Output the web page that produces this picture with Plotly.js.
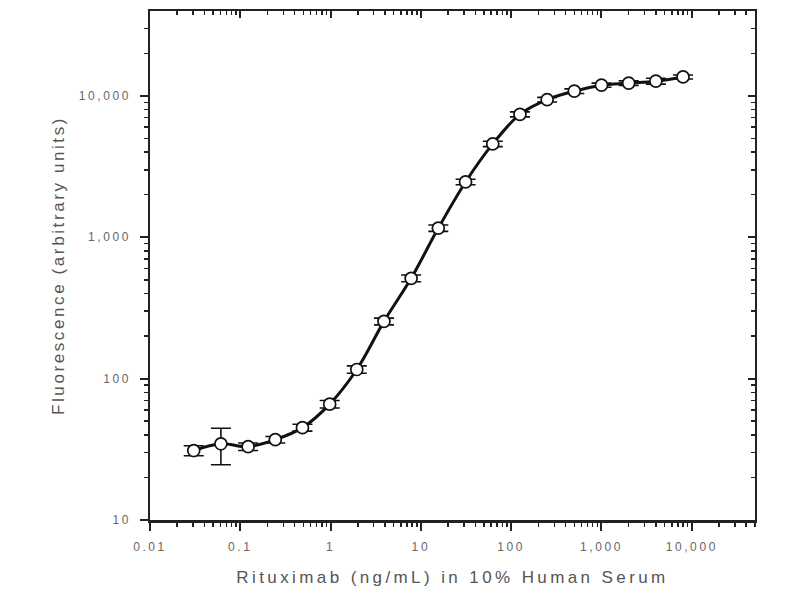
<!DOCTYPE html>
<html>
<head>
<meta charset="utf-8">
<script src="https://cdn.plot.ly/plotly-3.0.1.min.js"></script>
<style>
  html, body { margin: 0; padding: 0; background: #fff; }
  #chart { width: 800px; height: 600px; }
  /* the original artwork uses widely tracked lettering */
  #chart .xtitle { letter-spacing: 3.4px; }
  #chart .ytitle { letter-spacing: 2.6px; }
  #chart .xtick text, #chart .ytick text { letter-spacing: 2.6px; }
</style>
</head>
<body>
<div id="chart"></div>
<script>
// rituximab concentration (ng/mL), two-fold dilution series
var conc = [0.0305, 0.061, 0.122, 0.244, 0.488, 0.977, 1.95, 3.9, 7.8, 15.6,
            31.25, 62.5, 125, 250, 500, 1000, 2000, 4000, 8000];
// mean fluorescence (arbitrary units)
var fluor = [31, 34.6, 33, 37, 45, 66, 116, 254, 512, 1160,
             2460, 4570, 7400, 9400, 10800, 11900, 12300, 12700, 13600];
// error bar half-heights
var fluorErr = [2.5, 10, 2, 2, 2.5, 4, 7, 14, 28, 60,
                110, 200, 300, 350, 400, 400, 450, 600, 450];

var xTickVals = [0.01, 0.1, 1, 10, 100, 1000, 10000];
var xTickText = ['0.01', '0.1', '1', '10', '100', '1,000', '10,000'];
var yTickVals = [10, 100, 1000, 10000];
var yTickText = ['10', '100', '1,000', '10,000'];

var fam = 'Liberation Sans, Arial, sans-serif';
var tickFont = {family: fam, size: 12, color: '#666'};
var titleFont = {family: fam, size: 17, color: '#555'};

var curve = {
  x: conc,
  y: fluor,
  type: 'scatter',
  mode: 'lines+markers',
  line: {color: '#111', width: 3, shape: 'spline', smoothing: 1},
  marker: {symbol: 'circle', size: 12, color: '#fff', line: {color: '#111', width: 1.7}},
  error_y: {type: 'data', array: fluorErr, visible: true, color: '#111', thickness: 1.6, width: 10},
  hoverinfo: 'x+y'
};

// invisible trace to activate the mirrored top/right axes
var ghost = {
  x: [conc[0]], y: [fluor[0]], xaxis: 'x2', yaxis: 'y2',
  type: 'scatter', mode: 'markers', marker: {opacity: 0}, hoverinfo: 'skip'
};

var xRange = [-2, 4.7];
var yRange = [1, 4.6];

var layout = {
  width: 800,
  height: 600,
  margin: {l: 150, r: 45, t: 11, b: 80},
  paper_bgcolor: '#fff',
  plot_bgcolor: '#fff',
  showlegend: false,
  xaxis: {
    type: 'log', range: xRange,
    tickvals: xTickVals, ticktext: xTickText,
    ticks: 'outside', ticklen: 8, tickwidth: 2, tickcolor: '#222',
    minor: {ticks: 'outside', ticklen: 4, tickwidth: 1.5, tickcolor: '#222', dtick: 'D1'},
    ticklabelstandoff: 6,
    showline: true, linewidth: 2.5, linecolor: '#222',
    showgrid: false, zeroline: false,
    tickfont: tickFont,
    title: {text: 'Rituximab (ng/mL) in 10% Human Serum', font: titleFont, standoff: 18}
  },
  yaxis: {
    type: 'log', range: yRange,
    tickvals: yTickVals, ticktext: yTickText,
    ticks: 'outside', ticklen: 8, tickwidth: 2, tickcolor: '#222',
    minor: {ticks: 'outside', ticklen: 4, tickwidth: 1.5, tickcolor: '#222', dtick: 'D1'},
    ticklabelstandoff: 6,
    showline: true, linewidth: 2.5, linecolor: '#222',
    showgrid: false, zeroline: false,
    tickfont: tickFont,
    title: {text: 'Fluorescence (arbitrary units)', font: titleFont, standoff: 26}
  },
  xaxis2: {
    type: 'log', range: xRange, overlaying: 'x', side: 'top',
    tickvals: xTickVals, showticklabels: false,
    ticks: 'inside', ticklen: 7, tickwidth: 2, tickcolor: '#222',
    minor: {ticks: 'inside', ticklen: 4, tickwidth: 1.5, tickcolor: '#222', dtick: 'D1'},
    showline: true, linewidth: 2, linecolor: '#222',
    showgrid: false, zeroline: false
  },
  yaxis2: {
    type: 'log', range: yRange, overlaying: 'y', side: 'right',
    tickvals: yTickVals, showticklabels: false,
    ticks: 'inside', ticklen: 7, tickwidth: 2, tickcolor: '#222',
    minor: {ticks: 'inside', ticklen: 4, tickwidth: 1.5, tickcolor: '#222', dtick: 'D1'},
    showline: true, linewidth: 2, linecolor: '#222',
    showgrid: false, zeroline: false
  }
};

Plotly.newPlot('chart', [ghost, curve], layout, {displayModeBar: false, staticPlot: true});
</script>
</body>
</html>
